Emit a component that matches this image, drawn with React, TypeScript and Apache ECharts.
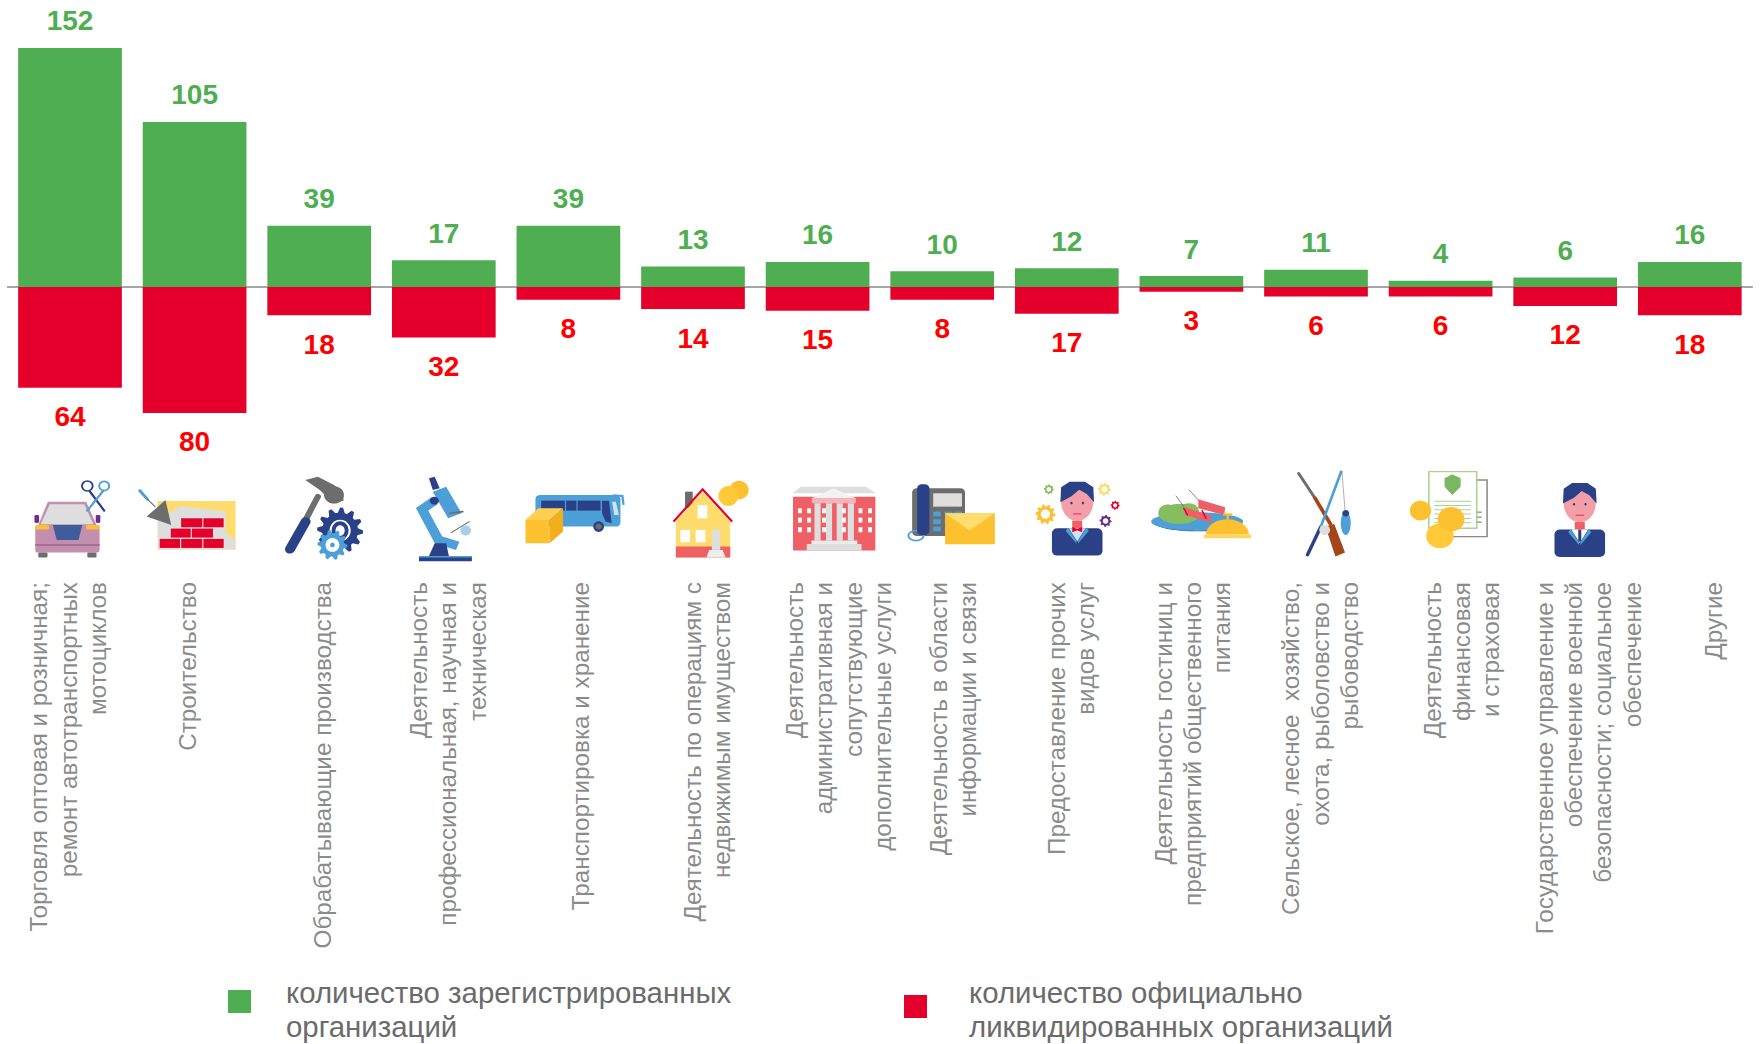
import React, { useEffect, useRef } from "react";
import * as echarts from "echarts";

const categories = [
  "Торговля оптовая и розничная;\nремонт автотранспортных\nмотоциклов",
  "Строительство",
  "Обрабатывающие производства",
  "Деятельность\nпрофессиональная, научная и\nтехническая",
  "Транспортировка и хранение",
  "Деятельность по операциям с\nнедвижимым имуществом",
  "Деятельность\nадминистративная и\nсопутствующие\nдополнительные услуги",
  "Деятельность в области\nинформации и связи",
  "Предоставление прочих\nвидов услуг",
  "Деятельность гостиниц и\nпредприятий общественного\nпитания",
  "Сельское, лесное  хозяйство,\nохота, рыболовство и\nрыбоводство",
  "Деятельность\nфинансовая\nи страховая",
  "Государственное управление и\nобеспечение военной\nбезопасности; социальное\nобеспечение",
  "Другие",
];
const registered = [152, 105, 39, 17, 39, 13, 16, 10, 12, 7, 11, 4, 6, 16];
const liquidated = [64, 80, 18, 32, 8, 14, 15, 8, 17, 3, 6, 6, 12, 18];
const registeredName = "количество зарегистрированных\nорганизаций";
const liquidatedName = "количество официально\nликвидированных организаций";
const labelShift = [-2, -7, 3, 4, 12, 14, 21, 11, 4, 1, 4, 21, 23, 24];

const FONT = "'Liberation Sans', Arial, sans-serif";
const GREEN = "#50AE52";
const RED = "#E4002B";
const BLUE = "#4D9FD8";
const NAVY = "#2A4188";
const YEL = "#FDC02F";
const LY = "#FFDC6E";
const GRAY = "#6D6D6D";
const LG = "#DEDEDE";
const CORAL = "#EE5F66";
const PINK = "#F49FA7";

const R = (x: number, y: number, w: number, h: number, fill: string, r = 0) => ({ type: "rect", shape: { x, y, width: w, height: h, r }, style: { fill } });
const E = (cx: number, cy: number, rx: number, ry: number, fill: string) => ({ type: "ellipse", shape: { cx, cy, rx, ry }, style: { fill } });
const O = (cx: number, cy: number, rx: number, ry: number, stroke: string, lineWidth = 5) => ({ type: "ellipse", shape: { cx, cy, rx, ry }, style: { fill: "none", stroke, lineWidth } });
const P = (points: number[][], fill: string) => ({ type: "polygon", shape: { points }, style: { fill } });
const L = (x1: number, y1: number, x2: number, y2: number, stroke: string, lineWidth = 6) => ({ type: "line", shape: { x1, y1, x2, y2 }, style: { stroke, lineWidth, lineCap: "round" } });
const PL = (points: number[][], stroke: string, lineWidth = 6) => ({ type: "polyline", shape: { points }, style: { stroke, lineWidth, fill: "none" } });

const gear = (cx: number, cy: number, rad: number, n: number, fill: string, hole = "#fff") => {
  const pts: number[][] = [];
  for (let i = 0; i < n * 4; i++) {
    const a = (i / (n * 4)) * Math.PI * 2;
    const rr = i % 4 < 2 ? rad : rad * 0.78;
    pts.push([cx + Math.cos(a) * rr * 2.613, cy + Math.sin(a) * rr * 3]);
  }
  return [P(pts, fill), E(cx, cy, rad * 1.2, rad * 1.4, hole)];
};

const person = (cx: number, bottom: number, bow: boolean) => [
  R(cx - 66, bottom - 82, 132, 82, NAVY, 14),
  R(cx - 13, bottom - 105, 26, 28, CORAL),
  E(cx, bottom - 162, 42, 58, PINK),
  P([[cx - 44, bottom - 160], [cx - 42, bottom - 205], [cx - 20, bottom - 222], [cx + 20, bottom - 222], [cx + 42, bottom - 205], [cx + 44, bottom - 160], [cx + 25, bottom - 185], [cx + 5, bottom - 198], [cx - 15, bottom - 178]], NAVY),
  E(cx - 15, bottom - 158, 3, 4, NAVY),
  E(cx + 15, bottom - 158, 3, 4, NAVY),
  L(cx - 10, bottom - 125, cx + 10, bottom - 125, RED, 2),
  P([[cx - 22, bottom - 82], [cx + 22, bottom - 82], [cx, bottom - 42]], bow ? "#CFE3F3" : "#fff"),
  P([[cx - 24, bottom - 84], [cx - 30, bottom - 74], [cx - 2, bottom - 36], [cx - 2, bottom - 44]], BLUE),
  P([[cx + 24, bottom - 84], [cx + 30, bottom - 74], [cx + 2, bottom - 36], [cx + 2, bottom - 44]], BLUE),
  bow
    ? P([[cx - 13, bottom - 86], [cx, bottom - 80], [cx + 13, bottom - 86], [cx + 13, bottom - 70], [cx, bottom - 76], [cx - 13, bottom - 70]], RED)
    : R(cx - 4, bottom - 82, 8, 36, NAVY),
];

const halfDome = (cx: number, base: number, rx: number, ry: number, fill: string) => {
  const pts: number[][] = [];
  for (let i = 0; i <= 24; i++) {
    const a = Math.PI + (i / 24) * Math.PI;
    pts.push([cx + Math.cos(a) * rx, base + Math.sin(a) * ry]);
  }
  return P(pts, fill);
};

// Crop-space drawing: x = cropX / 2.613, y = 460 + cropY / 3
const crop = (x: number, children: any[]) => ({ type: "group", x, y: 460, scaleX: 1 / 2.613, scaleY: 1 / 3, silent: true, children });

const iconsA = [
  // car
  R(92, 195, 168, 83, "#C48FAE", 8), R(100, 278, 24, 15, GRAY, 3), R(228, 278, 24, 15, GRAY, 3),
  P([[125, 125], [225, 125], [252, 195], [100, 195]], "#C48FAE"), P([[130, 133], [220, 133], [244, 193], [106, 193]], LG),
  R(93, 195, 35, 14, YEL, 4), R(225, 195, 35, 14, YEL, 4),
  P([[138, 195], [215, 195], [205, 240], [148, 240]], "#3F5D9B"), R(92, 252, 168, 6, "#A86F96"),
  R(90, 165, 12, 24, "#6B2D90", 4), R(250, 165, 12, 24, "#6B2D90", 4),
  L(235, 95, 272, 152, NAVY), O(228, 78, 14, 15, NAVY), L(228, 152, 270, 92, BLUE), O(272, 78, 13, 14, BLUE),
  // bricks
  R(412, 123, 203, 146, LY),
  P([[412, 180], [470, 140], [520, 145], [590, 155], [590, 220], [615, 240], [615, 269], [412, 269]], LG),
  R(473, 175, 55, 27, RED), R(531, 175, 53, 27, RED), R(446, 206, 52, 27, RED), R(501, 206, 55, 27, RED),
  R(417, 237, 53, 27, RED), R(473, 237, 55, 27, RED), R(531, 237, 53, 27, RED),
  P([[383, 170], [432, 120], [447, 195]], GRAY), L(365, 92, 385, 118, BLUE, 8), L(385, 118, 405, 140, GRAY, 3),
  // hammer and gears
  L(800, 175, 830, 110, GRAY, 16),
  P([[797, 60], [830, 50], [872, 75], [895, 95], [897, 122], [870, 130], [835, 90]], GRAY),
  E(872, 105, 26, 26, GRAY),
  L(757, 268, 798, 185, NAVY, 26),
  ...gear(888, 212, 23, 12, NAVY, "#fff"),
  E(888, 212, 22, 28, NAVY), E(888, 212, 12, 16, "#fff"),
  ...gear(868, 255, 15, 10, BLUE, "#fff"), E(868, 255, 6, 7, BLUE),
  // microscope
  R(1094, 288, 138, 16, NAVY), R(1094, 288, 138, 5, BLUE),
  PL([[1135, 122], [1102, 148], [1145, 240], [1195, 258]], BLUE, 26),
  P([[1120, 288], [1135, 250], [1165, 250], [1172, 288]], NAVY),
  P([[1130, 95], [1165, 80], [1205, 160], [1170, 175]], BLUE),
  P([[1120, 55], [1135, 50], [1148, 85], [1130, 90]], NAVY),
  E(1134, 122, 12, 12, NAVY),
  L(1175, 160, 1208, 155, GRAY, 5), L(1178, 218, 1225, 185, GRAY, 3),
  E(1216, 212, 14, 15, "#A9CFEA"),
  // bus and parcel
  PL([[1600, 106], [1625, 108], [1628, 135]], BLUE, 6),
  R(1398, 105, 222, 95, BLUE, 12),
  R(1413, 122, 62, 30, NAVY), R(1478, 122, 27, 30, NAVY), R(1508, 122, 60, 30, NAVY),
  P([[1572, 122], [1590, 122], [1597, 190], [1581, 185], [1572, 160]], NAVY),
  P([[1598, 125], [1608, 125], [1616, 165], [1604, 165]], "#CFE3F3"),
  E(1563, 200, 14, 16, NAVY), E(1563, 200, 8, 9, GRAY),
  P([[1372, 180], [1435, 180], [1435, 250], [1372, 250]], YEL),
  P([[1372, 180], [1405, 145], [1470, 145], [1435, 180]], "#FFD04F"),
  P([[1435, 180], [1470, 145], [1470, 215], [1435, 250]], "#F3AE1B"),
];

const iconsB = [
  // house
  R(222, 95, 20, 50, GRAY),
  P([[198, 185], [268, 95], [340, 185], [340, 293], [198, 293]], LY),
  R(198, 260, 142, 33, CORAL),
  PL([[192, 185], [268, 88], [345, 185]], RED, 6),
  R(255, 135, 25, 40, "#fff"), R(210, 210, 25, 37, "#fff"), R(250, 210, 25, 37, "#fff"),
  R(292, 210, 22, 60, LG), P([[285, 270], [320, 270], [328, 293], [278, 293]], "#EDEDED"),
  E(363, 90, 25, 28, YEL), E(335, 108, 26, 30, "#FFC938"),
  // building
  R(504, 110, 215, 162, CORAL),
  P([[502, 100], [525, 80], [695, 80], [720, 100]], LG),
  R(553, 115, 115, 15, "#F7B4B8"), P([[553, 115], [610, 85], [668, 115]], "#F2F2F2"),
  R(560, 130, 16, 112, LG), R(590, 130, 16, 112, LG), R(618, 130, 16, 112, LG), R(647, 130, 16, 112, LG),
  ...[145, 173, 202].flatMap((y) => [517, 541, 580, 632, 675, 700].map((x) => R(x, y, 10, 15, "#fff"))),
  R(552, 242, 120, 10, "#EBEBEB"), R(540, 252, 143, 20, LG),
  // phone
  R(815, 85, 138, 143, GRAY, 12), O(825, 227, 20, 15, BLUE, 5), R(828, 73, 32, 152, NAVY, 12),
  R(870, 100, 75, 40, LG),
  ...[155, 178, 200].flatMap((y) => [870, 900, 925].map((x) => R(x, y, 20, 14, BLUE))),
  R(901, 160, 130, 93, YEL), P([[901, 160], [1030, 160], [965, 212]], LY),
  // person with gears
  ...person(1246, 287, true),
  ...gear(1163, 163, 10, 10, YEL), ...gear(1317, 88, 6.5, 8, "#FFDC6E"), ...gear(1172, 88, 5, 8, "#86BD5E"),
  ...gear(1345, 136, 4.5, 8, RED), ...gear(1320, 183, 6, 8, "#6B2D90"),
];

const iconsC = [
  // plate with shrimp and bell
  E(100, 192, 108, 22, NAVY), E(97, 185, 120, 28, BLUE),
  E(50, 162, 54, 30, "#86BD5E"), E(20, 158, 24, 24, "#86BD5E"), E(75, 152, 26, 22, "#86BD5E"),
  P([[100, 118], [170, 142], [168, 165], [100, 145]], CORAL), P([[65, 142], [135, 168], [132, 188], [65, 165]], CORAL),
  L(110, 152, 120, 175, RED, 4), L(62, 145, 72, 165, RED, 4),
  L(42, 108, 62, 140, "#3F5D9B", 2), L(76, 90, 100, 120, "#3F5D9B", 2),
  halfDome(176, 224, 56, 46, YEL), R(165, 160, 24, 7, YEL), R(174, 165, 6, 14, YEL), R(115, 224, 123, 11, "#FFD55F"),
  // rifle and rod
  L(362, 40, 405, 115, GRAY, 8), L(405, 115, 445, 192, "#A5451A", 10),
  P([[432, 200], [455, 192], [483, 278], [458, 290]], "#A5451A"),
  L(385, 285, 420, 200, NAVY, 9), L(420, 200, 473, 35, BLUE, 7), L(475, 35, 483, 150, GRAY, 1.5),
  E(485, 190, 13, 35, BLUE), E(485, 160, 9, 10, NAVY), E(430, 210, 14, 15, LG),
  // document and coins
  { type: "rect", shape: { x: 722, y: 60, width: 132, height: 170 }, style: { fill: "#fff", stroke: "#8A8A8A", lineWidth: 4 } },
  { type: "rect", shape: { x: 702, y: 35, width: 125, height: 170 }, style: { fill: "#fff", stroke: "#A9D38E", lineWidth: 4 } },
  P([[743, 55], [763, 43], [785, 55], [785, 80], [763, 105], [743, 80]], "#7BB661"),
  ...[122, 135, 148, 161, 174, 187].map((y) => R(716, y, 96, 3, "#A9D38E")),
  ...[155, 170, 185].map((y) => R(828, y, 12, 3, GRAY)),
  E(680, 152, 28, 30, YEL), E(731, 228, 36, 37, "#FFC938"), E(760, 178, 35, 37, YEL),
  // second person
  ...person(1096, 291, false),
];

const legendFont = `29.4px ${FONT}`;
const legendGraphics = [
  { type: "rect", shape: { x: 228, y: 990, width: 23, height: 23 }, style: { fill: GREEN } },
  { type: "text", x: 286, y: 975, style: { text: registeredName, font: legendFont, fill: "#6B6B6B", lineHeight: 34.5 } },
  { type: "rect", shape: { x: 904, y: 995, width: 23, height: 23 }, style: { fill: RED } },
  { type: "text", x: 969, y: 975, style: { text: liquidatedName, font: legendFont, fill: "#6B6B6B", lineHeight: 34.5 } },
];

export default function App() {
  const ref = useRef<HTMLDivElement>(null);
  useEffect(() => {
    const chart = echarts.init(ref.current!, undefined, { renderer: "svg" });
    chart.setOption({
      animation: false,
      backgroundColor: "#fff",
      grid: { left: 7.7, top: 3.9, width: 1744.4, height: 566.3, outerBoundsMode: "none", containLabel: false },
      xAxis: {
        type: "category",
        data: categories,
        axisLine: { show: true, onZero: true, lineStyle: { color: "#A6A6A6", width: 2 } },
        axisTick: { show: false },
        axisLabel: { show: false },
      },
      yAxis: { type: "value", min: -180, max: 180, show: false, splitLine: { show: false } },
      series: [
        {
          name: registeredName, type: "bar", data: registered, barWidth: 103.7, barGap: "-100%",
          itemStyle: { color: GREEN },
          label: { show: true, position: "top", distance: 13, color: GREEN, fontFamily: FONT, fontWeight: "bold", fontSize: 28 },
        },
        {
          name: liquidatedName, type: "bar", data: liquidated.map((v) => -v), barWidth: 103.7,
          itemStyle: { color: RED },
          label: {
            show: true, position: "bottom", distance: 15, color: "#FF0000", fontFamily: FONT, fontWeight: "bold", fontSize: 28,
            formatter: (p: any) => String(Math.abs(p.value)),
          },
        },
        {
          name: "categoryLabels", type: "scatter", symbolSize: 0, silent: true,
          data: categories.map((c, i) => ({
            value: [c, 0],
            label: { offset: [-295, labelShift[i]] },
          })),
          label: {
            show: true, position: "inside", rotate: 90, align: "right", verticalAlign: "middle",
            formatter: (p: any) => p.value[0],
            color: "#6B6B6B", fontFamily: FONT, fontSize: 24.25, lineHeight: 29.3,
          },
        },
      ],
      graphic: [crop(0, iconsA), crop(600, iconsB), crop(1160, iconsC), ...legendGraphics],
    });
    return () => chart.dispose();
  }, []);
  return <div ref={ref} style={{ position: "fixed", left: 0, top: 0, width: 1760, height: 1044, background: "#fff" }} />;
}
